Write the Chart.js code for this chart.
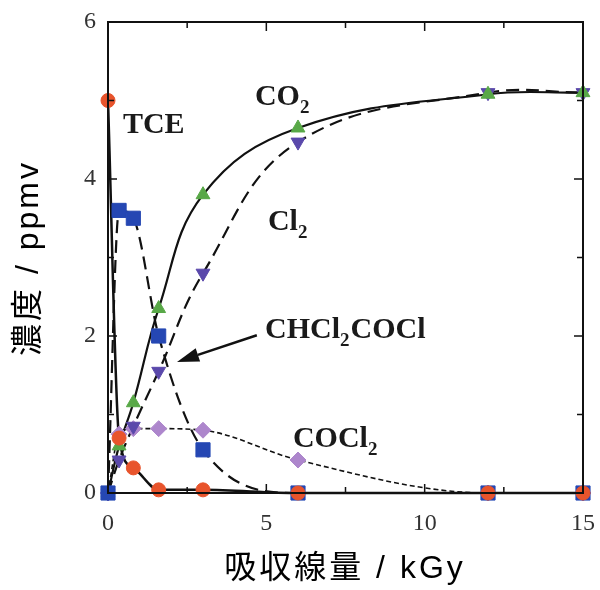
<!DOCTYPE html>
<html>
<head>
<meta charset="utf-8">
<script src="https://cdn.jsdelivr.net/npm/chart.js@4.4.0/dist/chart.umd.min.js"></script>
<style>
  html, body { margin: 0; padding: 0; background: #fff; overflow: hidden; }
  #wrap { width: 600px; height: 590px; position: relative; }
  canvas { display: block; }
</style>
</head>
<body>
<div id="wrap"><canvas id="chart"></canvas></div>
<script>
// dose (kGy) and concentrations (ppmv)
const dose   = [0, 0.35, 0.8, 1.6, 3, 6, 12, 15];
const tce    = [5.0, 0.7, 0.32, 0.04, 0.04, 0, 0, 0];
const dcac   = [0, 3.6, 3.5, 2.0, 0.55, 0, 0, 0];      // CHCl2COCl
const co2    = [0, 0.6, 1.15, 2.35, 3.8, 4.65, 5.08, 5.1];
const cl2    = [0, 0.42, 0.85, 1.55, 2.8, 4.47, 5.1, 5.1];
const cocl2  = [0, 0.75, 0.82, 0.82, 0.8, 0.42, 0, 0];

const xTicks = [0, 5, 10, 15];
const yTicks = [0, 2, 4, 6];

const serif = '"Liberation Serif", "DejaVu Serif", serif';
const sans = '"Liberation Sans", "Noto Sans CJK JP", sans-serif';

function pts(ys) {
    return dose.map((x, i) => ({ x: x, y: ys[i] }));
}

function markers(ys, style, color, radius, rotation) {
    return {
        data: pts(ys),
        showLine: false,
        clip: false,
        pointStyle: style,
        pointRadius: radius,
        pointRotation: rotation || 0,
        pointBackgroundColor: color,
        pointBorderColor: color,
        pointBorderWidth: 1
    };
}

function curve(ys, dash, width, smooth) {
    const ds = {
        data: pts(ys),
        showLine: true,
        clip: false,
        pointRadius: 0,
        borderColor: '#111',
        borderWidth: width,
        borderDash: dash,
        fill: false
    };
    if (smooth) ds.tension = 0.4;
    else ds.cubicInterpolationMode = 'monotone';
    return ds;
}

// labels placed in data units, [x, baseline y, parts]
const labels = [
    [0.47, 4.59, [['TCE']]],
    [4.64, 4.94, [['CO'], ['2', true]]],
    [5.05, 3.35, [['Cl'], ['2', true]]],
    [4.96, 1.97, [['CHCl'], ['2', true], ['COCl']]],
    [5.84, 0.59, [['COCl'], ['2', true]]]
];

function noPad(s) {
    s.paddingLeft = 0; s.paddingRight = 0;
    s.paddingTop = 0; s.paddingBottom = 0;
}

const framePlugin = {
    id: 'frame',
    afterDatasetsDraw(chart) {
        const ctx = chart.ctx;
        const a = chart.chartArea;
        const xs = chart.scales.x, ys = chart.scales.y;
        ctx.save();
        ctx.strokeStyle = '#111';
        ctx.lineWidth = 2;
        ctx.strokeRect(a.left, a.top, a.right - a.left, a.bottom - a.top);

        // inward ticks
        ctx.lineWidth = 1.5;
        ctx.beginPath();
        for (let v = 0; v <= 15; v += 2.5) {
            const px = xs.getPixelForValue(v);
            const len = v % 5 === 0 ? 9 : 6;
            ctx.moveTo(px, a.top); ctx.lineTo(px, a.top + len);
            ctx.moveTo(px, a.bottom); ctx.lineTo(px, a.bottom - len);
        }
        for (let v = 0; v <= 6; v += 1) {
            const py = ys.getPixelForValue(v);
            const len = v % 2 === 0 ? 9 : 6;
            ctx.moveTo(a.left, py); ctx.lineTo(a.left + len, py);
            ctx.moveTo(a.right, py); ctx.lineTo(a.right - len, py);
        }
        ctx.stroke();

        // species labels
        ctx.fillStyle = '#1a1a1a';
        ctx.textBaseline = 'alphabetic';
        ctx.textAlign = 'left';
        labels.forEach(([lx, ly, parts]) => {
            let px = xs.getPixelForValue(lx);
            const py = ys.getPixelForValue(ly);
            parts.forEach(([t, sub]) => {
                ctx.font = sub ? 'bold 19px ' + serif : 'bold 30px ' + serif;
                ctx.fillText(t, px, sub ? py + 8 : py);
                px += ctx.measureText(t).width + (sub ? 1 : 0);
            });
        });

        // arrow to the CHCl2COCl curve
        const x0 = xs.getPixelForValue(4.7), y0 = ys.getPixelForValue(2.01);
        const x1 = xs.getPixelForValue(2.18), y1 = ys.getPixelForValue(1.67);
        const ang = Math.atan2(y1 - y0, x1 - x0);
        const hl = 22, hw = 7;
        const bx = x1 - hl * Math.cos(ang), by = y1 - hl * Math.sin(ang);
        ctx.strokeStyle = '#111';
        ctx.lineWidth = 2.5;
        ctx.beginPath();
        ctx.moveTo(x0, y0); ctx.lineTo(bx, by);
        ctx.stroke();
        ctx.beginPath();
        ctx.moveTo(x1, y1);
        ctx.lineTo(bx + hw * Math.sin(ang), by - hw * Math.cos(ang));
        ctx.lineTo(bx - hw * Math.sin(ang), by + hw * Math.cos(ang));
        ctx.closePath();
        ctx.fillStyle = '#111';
        ctx.fill();

        // axis titles
        ctx.fillStyle = '#000';
        ctx.font = '32px ' + sans;
        ctx.letterSpacing = '3px';
        ctx.textAlign = 'center';
        ctx.textBaseline = 'middle';
        ctx.fillText('吸収線量 / kGy', 345, 569);
        ctx.translate(29, 258);
        ctx.rotate(-Math.PI / 2);
        ctx.fillText('濃度 / ppmv', 0, 0);
        ctx.restore();
    }
};

new Chart(document.getElementById('chart'), {
    type: 'scatter',
    data: {
        datasets: [
            markers(tce, 'circle', '#e8542c', 7),
            markers(dcac, 'rect', '#2547b3', 10),
            markers(co2, 'triangle', '#58a847', 8),
            markers(cl2, 'triangle', '#5a48ab', 8, 180),
            markers(cocl2, 'rectRot', '#ad86cc', 8),
            curve(tce, [], 2.5),
            curve(dcac, [13, 7], 2.2),
            curve(co2, [], 2.2, true),
            curve(cl2, [13, 7], 2.2, true),
            curve(cocl2, [5, 3], 1.6)
        ]
    },
    options: {
        responsive: true,
        maintainAspectRatio: false,
        animation: false,
        layout: { padding: { top: 22, right: 17, left: 0, bottom: 0 } },
        plugins: {
            legend: { display: false },
            tooltip: { enabled: false }
        },
        scales: {
            x: {
                type: 'linear',
                min: 0, max: 15,
                afterFit: s => { s.height = 97; noPad(s); },
                afterBuildTicks: s => { s.ticks = xTicks.map(v => ({ value: v })); },
                grid: { display: false, drawTicks: false },
                border: { display: false },
                ticks: { color: '#333', padding: 16, font: { family: serif, size: 24 } }
            },
            y: {
                type: 'linear',
                min: 0, max: 6,
                afterFit: s => { s.width = 108; noPad(s); },
                afterBuildTicks: s => { s.ticks = yTicks.map(v => ({ value: v })); },
                grid: { display: false, drawTicks: false },
                border: { display: false },
                ticks: { color: '#333', padding: 12, font: { family: serif, size: 24 } }
            }
        }
    },
    plugins: [framePlugin]
});
</script>
</body>
</html>
